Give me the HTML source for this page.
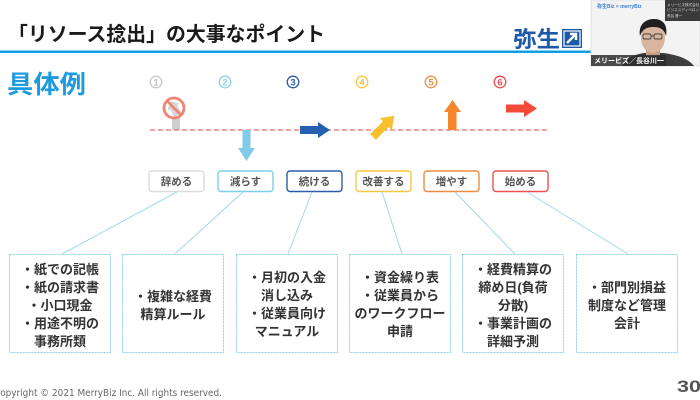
<!DOCTYPE html>
<html><head><meta charset="utf-8">
<style>
html,body{margin:0;padding:0;background:#fff;}
svg{display:block;}
text{font-family:"Liberation Sans","Noto Sans CJK JP",sans-serif;}
</style></head>
<body>
<svg width="700" height="400" viewBox="0 0 700 400" xmlns="http://www.w3.org/2000/svg">
<rect width="700" height="400" fill="#fff"/>
<!-- Title -->
<text x="8" y="41" font-size="20" font-weight="bold" fill="#1a1a1a" textLength="317" lengthAdjust="spacingAndGlyphs">「リソース捻出」の大事なポイント</text>
<rect x="0" y="50.5" width="592" height="2.5" fill="#10a0e6"/>
<!-- Yayoi logo -->
<text x="513" y="47" font-size="22" font-weight="bold" fill="#1f5aa8" textLength="47" lengthAdjust="spacingAndGlyphs">弥生</text>
<rect x="562" y="29" width="20" height="19" fill="#1f5aa8"/>
<rect x="564" y="31" width="16" height="15" fill="none" stroke="#fff" stroke-width="1.2"/>
<path d="M567 43 L576 34 M570 34 L576 34 L576 40" stroke="#fff" stroke-width="2.4" fill="none"/>
<!-- 具体例 -->
<text x="7" y="93" font-size="25" font-weight="bold" fill="#1e9be0" textLength="79" lengthAdjust="spacingAndGlyphs">具体例</text>

<!-- circled numbers -->
<g font-size="9.5" font-weight="bold" text-anchor="middle">
<circle cx="156" cy="82" r="5.8" fill="none" stroke="#c8c8c8" stroke-width="1.3"/><text x="156" y="85.3" fill="#c0c0c0">1</text>
<circle cx="225" cy="82" r="5.8" fill="none" stroke="#8fd3ea" stroke-width="1.3"/><text x="225" y="85.3" fill="#8fd3ea">2</text>
<circle cx="293" cy="82" r="5.8" fill="none" stroke="#2a5ca8" stroke-width="1.3"/><text x="293" y="85.3" fill="#2a5ca8">3</text>
<circle cx="362" cy="82" r="5.8" fill="none" stroke="#f7c640" stroke-width="1.3"/><text x="362" y="85.3" fill="#f7c640">4</text>
<circle cx="431" cy="82" r="5.8" fill="none" stroke="#f39040" stroke-width="1.3"/><text x="431" y="85.3" fill="#f39040">5</text>
<circle cx="500" cy="82" r="5.8" fill="none" stroke="#ee4a4a" stroke-width="1.3"/><text x="500" y="85.3" fill="#ee4a4a">6</text>
</g>

<!-- icons -->
<rect x="172" y="116" width="8" height="14" fill="#cfcfcf"/>
<circle cx="174" cy="108" r="10" fill="#fff"/>
<path d="M174 100 L181 107 L178 107 L178 116 L170 116 L170 107 L167 107 Z" fill="#d4d4d4" transform="rotate(-30 174 108)"/>
<circle cx="174" cy="108" r="10" fill="none" stroke="#f28272" stroke-width="2.8"/>
<line x1="167" y1="101" x2="181" y2="115" stroke="#f28272" stroke-width="2.6"/>
<line x1="150" y1="130" x2="548" y2="130" stroke="#f06a6a" stroke-width="1.3" stroke-dasharray="5,3"/>
<path d="M242.5 130 L250.5 130 L250.5 148 L255 148 L246.5 161 L238 148 L242.5 148 Z" fill="#80cce8"/>
<path d="M300 126 L318 126 L318 122 L330 130 L318 138 L318 134 L300 134 Z" fill="#2462b0"/>
<path d="M0 -4 L18 -4 L18 -8.5 L30 0 L18 8.5 L18 4 L0 4 Z" fill="#f8c030" transform="translate(373 137) rotate(-45)"/>
<path d="M448 130 L448 112 L444 112 L452.5 100 L461 112 L456.5 112 L456.5 130 Z" fill="#f7852a"/>
<path d="M506 104.5 L524 104.5 L524 100 L537 108.5 L524 117 L524 112.5 L506 112.5 Z" fill="#f44a3a"/>

<!-- label boxes -->
<g fill="#fff" stroke-width="1.4">
<rect x="149" y="171" width="55" height="20.5" rx="3" stroke="#dcdcdc"/>
<rect x="218" y="171" width="55" height="20.5" rx="3" stroke="#7dcfe8"/>
<rect x="287" y="171" width="55" height="20.5" rx="3" stroke="#2a5fa8"/>
<rect x="356" y="171" width="55" height="20.5" rx="3" stroke="#f7c640"/>
<rect x="424" y="171" width="55" height="20.5" rx="3" stroke="#f08a40"/>
<rect x="493" y="171" width="55" height="20.5" rx="3" stroke="#ee5050"/>
</g>
<g font-size="10.5" font-weight="bold" fill="#555" text-anchor="middle">
<text x="176.5" y="185">辞める</text>
<text x="245.5" y="185">減らす</text>
<text x="314.5" y="185">続ける</text>
<text x="383.5" y="185">改善する</text>
<text x="451.5" y="185">増やす</text>
<text x="520.5" y="185">始める</text>
</g>

<!-- connectors -->
<g stroke="#9dd8ee" stroke-width="1">
<line x1="177" y1="192" x2="62" y2="254"/>
<line x1="243" y1="192" x2="175" y2="254"/>
<line x1="312" y1="192" x2="288" y2="254"/>
<line x1="382" y1="192" x2="402" y2="254"/>
<line x1="455" y1="192" x2="515" y2="254"/>
<line x1="527" y1="192" x2="628" y2="254"/>
</g>

<!-- bottom boxes -->
<g fill="none" stroke="#8dd0ea" stroke-width="1" stroke-dasharray="2,1">
<rect x="9.5" y="254.5" width="101" height="98"/>
<rect x="122.5" y="254.5" width="101" height="98"/>
<rect x="236.5" y="254.5" width="101" height="98"/>
<rect x="349.5" y="254.5" width="101" height="98"/>
<rect x="462.5" y="254.5" width="101" height="98"/>
<rect x="576.5" y="254.5" width="101" height="98"/>
</g>
<g font-size="13" font-weight="bold" fill="#333" text-anchor="middle">
<text x="60" y="274">・紙での記帳</text>
<text x="60" y="292">・紙の請求書</text>
<text x="60" y="310">・小口現金</text>
<text x="60" y="328">・用途不明の</text>
<text x="60" y="346">事務所類</text>

<text x="173" y="301">・複雑な経費</text>
<text x="173" y="319">精算ルール</text>

<text x="287" y="282">・月初の入金</text>
<text x="287" y="300">消し込み</text>
<text x="287" y="318">・従業員向け</text>
<text x="287" y="336">マニュアル</text>

<text x="400" y="282">・資金繰り表</text>
<text x="400" y="300">・従業員から</text>
<text x="400" y="318">のワークフロー</text>
<text x="400" y="336">申請</text>

<text x="513" y="274">・経費精算の</text>
<text x="513" y="292">締め日(負荷</text>
<text x="513" y="310">分散)</text>
<text x="513" y="328">・事業計画の</text>
<text x="513" y="346">詳細予測</text>

<text x="627" y="292">・部門別損益</text>
<text x="627" y="310">制度など管理</text>
<text x="627" y="328">会計</text>
</g>

<!-- footer -->
<text x="-6" y="396" font-size="9.5" fill="#666" textLength="228" lengthAdjust="spacingAndGlyphs" style="font-family:'DejaVu Sans',sans-serif">Copyright © 2021 MerryBiz Inc. All rights reserved.</text>
<text x="677" y="392" font-size="17" font-weight="bold" fill="#555" textLength="24" lengthAdjust="spacingAndGlyphs">30</text>

<!-- webcam -->
<rect x="591" y="0" width="109" height="66" fill="#f3f3f3"/>
<rect x="591" y="0" width="109" height="66" fill="none" stroke="#ddd" stroke-width="0.8"/>
<text x="597" y="8" font-size="5" fill="#3a7fd0" font-weight="bold">弥生Biz × merryBiz</text>
<rect x="665" y="0" width="35" height="21" fill="#3a3a3a"/>
<g font-size="3.6" fill="#ddd">
<text x="667" y="6">メリービズ株式会社</text>
<text x="667" y="11">ビジネスディベロップ</text>
<text x="667" y="17">長谷 晋一</text>
</g>
<path d="M622 66 C626 58 636 54 644 53 L664 53 C676 55 688 58 694 66 Z" fill="#3d3d3d"/>
<rect x="646" y="48" width="14" height="8" fill="#c99e85"/>
<ellipse cx="653" cy="38" rx="12" ry="15" fill="#d8b59c"/>
<path d="M640 36 C638 24 646 19 654 19 C663 19 668 25 666 36 C664 29 660 27 653 27 C646 27 642 30 640 36 Z" fill="#1f1f1f"/>
<g fill="none" stroke="#444" stroke-width="0.9">
<rect x="643" y="34" width="8" height="5" rx="1.5"/>
<rect x="654" y="34" width="8" height="5" rx="1.5"/>
<line x1="651" y1="36" x2="654" y2="36"/>
</g>
<rect x="591" y="55" width="75" height="11" fill="#2d2d2d" opacity="0.85"/>
<text x="594" y="63" font-size="7" font-weight="bold" fill="#fff">メリービズ／長谷川一</text>
</svg>
</body></html>
